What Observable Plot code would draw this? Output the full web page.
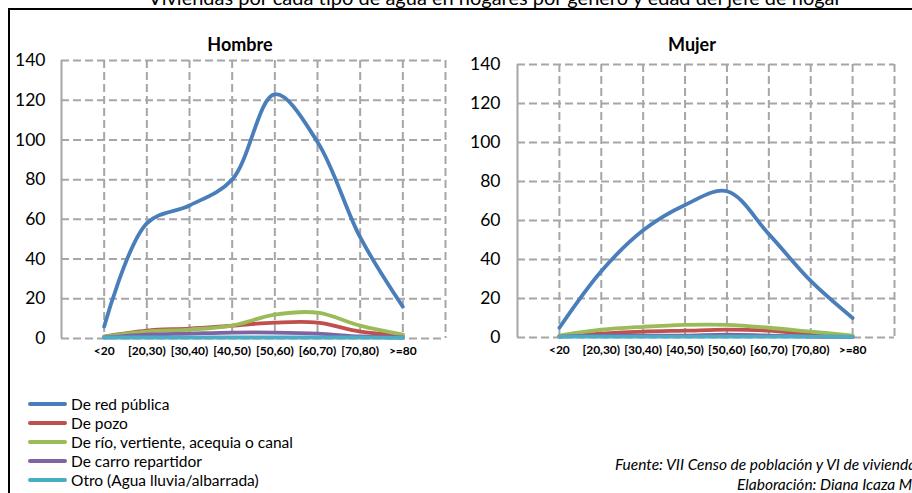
<!DOCTYPE html>
<html>
<head>
<meta charset="utf-8">
<script src="https://cdn.jsdelivr.net/npm/d3@7"></script>
<script src="https://cdn.jsdelivr.net/npm/@observablehq/plot@0.6"></script>
<style>
  html, body { margin: 0; padding: 0; background: #fff; }
  #root { position: relative; width: 912px; height: 493px; overflow: hidden; font-family: Lato, "Open Sans", sans-serif; color: #000; }
  .abs { position: absolute; }
  #maintitle { left: 0; width: 990px; top: -15px; text-align: center; font-size: 20px; white-space: nowrap; }
  #box { left: 8px; top: 8px; width: 1000px; height: 600px; border-left: 2px solid #000; border-top: 2px solid #000; }
  .ctitle { font-weight: bold; font-size: 18px; top: 33px; transform: translateX(-50%); white-space: nowrap; }
  .leg { left: 28px; font-size: 15.5px; display: flex; align-items: center; white-space: nowrap; height: 19px; }
  .leg span.sw { display: inline-block; width: 39px; height: 4px; border-radius: 2px; margin-right: 4px; }
  .foot { font-style: italic; font-size: 15.5px; white-space: nowrap; }
</style>
</head>
<body>
<div id="root">
  <div id="maintitle" class="abs">Viviendas por cada tipo de agua en hogares por género y edad del jefe de hogar</div>
  <div id="box" class="abs"></div>
</div>
<script>
const categories = ["<20", "[20,30)", "[30,40)", "[40,50)", "[50,60)", "[60,70)", "[70,80)", ">=80"];
const series = ["De red pública", "De pozo", "De río, vertiente, acequia o canal", "De carro repartidor", "Otro (Agua lluvia/albarrada)"];
const colors = ["#4A7EBB", "#C0504D", "#9BBB59", "#8064A2", "#4BACC6"];
const yTicks = [0, 20, 40, 60, 80, 100, 120, 140];

const hombreRed   = [6, 58, 67, 80, 123, 99, 51, 16];
const hombrePozo  = [1, 4, 5, 6.5, 8, 8, 3.5, 1.5];
const hombreRio   = [1, 3.5, 4.5, 6.5, 12, 13, 6.5, 2];
const hombreCarro = [0.5, 2, 2.5, 3, 3, 2.5, 1, 0.5];
const hombreOtro  = [0.5, 0.5, 0.5, 0.5, 0.5, 0.5, 0.5, 0.3];

const mujerRed   = [5, 34, 55, 68, 75, 53, 29, 10];
const mujerPozo  = [0.5, 2, 3, 3.5, 4, 3.5, 1.5, 0.5];
const mujerRio   = [1, 4, 5.5, 6.5, 6.5, 5, 3, 1];
const mujerCarro = [0.5, 1, 1, 1, 1.5, 1, 0.5, 0.3];
const mujerOtro  = [0.5, 0.5, 0.5, 0.5, 0.5, 0.5, 0.5, 0.3];

const root = document.getElementById("root");
const gridStyle = {stroke: "#a6a6a6", strokeOpacity: 1, strokeWidth: 2, strokeDasharray: "8,4"};

function chart(vals, o) {
  const data = [];
  series.forEach((s, k) => vals[k].forEach((v, i) => data.push({s, i: i + 1, v})));
  const idx = categories.map((c, i) => i + 1);
  return Plot.plot({
    width: o.width, height: o.height,
    marginLeft: o.ml, marginRight: o.mr, marginTop: o.mt, marginBottom: o.mb,
    style: {fontFamily: "Lato, 'Open Sans', sans-serif", background: "transparent", color: "#000"},
    x: {domain: [0, categories.length + 1], axis: null},
    y: {domain: [0, 140], axis: null},
    color: {domain: series, range: colors},
    marks: [
      Plot.gridY(yTicks.filter(d => d > 0), gridStyle),
      Plot.gridX([...idx, categories.length + 1], gridStyle),
      Plot.ruleY([0], gridStyle),
      Plot.ruleX([0], {stroke: "#a6a6a6", strokeWidth: 2}),
      Plot.axisY(yTicks, {tickSize: 0, tickPadding: o.ypad, fontSize: 17.5, label: null, fill: "#000"}),
      Plot.axisX(idx, {tickSize: 0, tickPadding: 8, fontSize: 12, fontWeight: "bold", label: null, fill: "#000",
        tickFormat: i => categories[i - 1]}),
      Plot.line(data, {x: "i", y: "v", z: "s", stroke: "s", curve: "catmull-rom", strokeWidth: 3.8, strokeLinecap: "round"})
    ]
  });
}

const left = chart([hombreRed, hombrePozo, hombreRio, hombreCarro, hombreOtro],
  {width: 460, height: 320, ml: 61, mr: 15, mt: 20, mb: 22, ypad: 16});
left.style.position = "absolute"; left.style.left = "0px"; left.style.top = "40px";
root.appendChild(left);

const right = chart([mujerRed, mujerPozo, mujerRio, mujerCarro, mujerOtro],
  {width: 452, height: 320, ml: 57, mr: 18, mt: 24, mb: 23, ypad: 17});
right.style.position = "absolute"; right.style.left = "460px"; right.style.top = "40px";
root.appendChild(right);

function addDiv(cls, text, css) {
  const d = document.createElement("div");
  d.className = "abs " + cls;
  d.textContent = text;
  Object.assign(d.style, css);
  root.appendChild(d);
  return d;
}
addDiv("ctitle", "Hombre", {left: "240px"});
addDiv("ctitle", "Mujer", {left: "692px"});

series.forEach((s, k) => {
  const d = document.createElement("div");
  d.className = "abs leg";
  d.style.top = (394 + k * 19) + "px";
  const sw = document.createElement("span");
  sw.className = "sw";
  sw.style.background = colors[k];
  d.appendChild(sw);
  d.appendChild(document.createTextNode(s));
  root.appendChild(d);
});

addDiv("foot", "Fuente: VII Censo de población y VI de vivienda", {left: "615px", top: "455px"});
addDiv("foot", "Elaboración: Diana Icaza M.", {left: "737px", top: "475px"});
</script>
</body>
</html>
